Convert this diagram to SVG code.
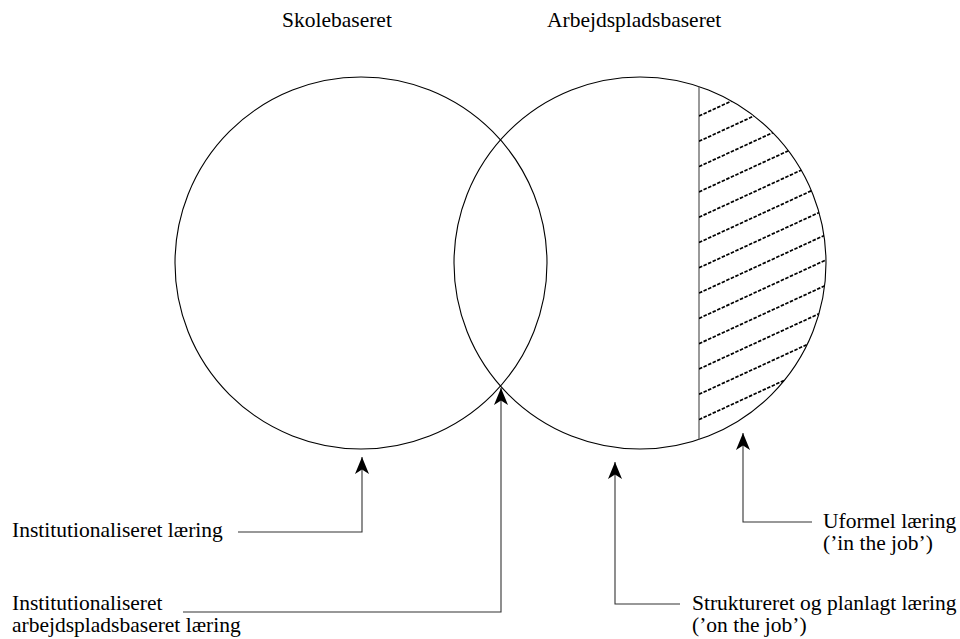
<svg xmlns="http://www.w3.org/2000/svg" width="960" height="639" viewBox="0 0 960 639">
<style>
text{font-family:"Liberation Serif","Times New Roman",serif;font-size:21.5px;fill:#000}
.circ{fill:none;stroke:#000;stroke-width:1.1}
.conn{fill:none;stroke:#333;stroke-width:1.1}
.hatch{fill:none;stroke:#000;stroke-width:1.7;stroke-dasharray:3.5 1.5}
.divider{stroke:#555;stroke-width:1.2}
</style>
<defs>
<marker id="arr" markerUnits="userSpaceOnUse" markerWidth="20" markerHeight="18" viewBox="-18 -9 19 18" refX="0" refY="0" orient="auto">
<path d="M0,0 L-17,-7 L-12.5,0 L-17,7 Z" fill="#000"/>
</marker>
<clipPath id="seg">
<path d="M699,86.6 A186,186 0 0,1 699,439.4 Z"/>
</clipPath>
</defs>
<g id="title-skole"><text x="282" y="27">Skolebaseret</text></g>
<g id="title-arbejd"><text x="547" y="27">Arbejdspladsbaseret</text></g>
<g id="circle-skole"><circle class="circ" cx="361" cy="263" r="186"/></g>
<g id="circle-arbejd">
<circle class="circ" cx="640" cy="263" r="186"/>
<line class="divider" x1="699" y1="86.6" x2="699" y2="439.4"/>
<g clip-path="url(#seg)">
<line class="hatch" x1="699" y1="116" x2="850" y2="46.5"/>
<line class="hatch" x1="699" y1="141.3" x2="850" y2="71.8"/>
<line class="hatch" x1="699" y1="166.6" x2="850" y2="97.1"/>
<line class="hatch" x1="699" y1="191.9" x2="850" y2="122.4"/>
<line class="hatch" x1="699" y1="217.2" x2="850" y2="147.7"/>
<line class="hatch" x1="699" y1="242.5" x2="850" y2="173"/>
<line class="hatch" x1="699" y1="267.8" x2="850" y2="198.3"/>
<line class="hatch" x1="699" y1="293.1" x2="850" y2="223.6"/>
<line class="hatch" x1="699" y1="318.4" x2="850" y2="248.9"/>
<line class="hatch" x1="699" y1="343.7" x2="850" y2="274.2"/>
<line class="hatch" x1="699" y1="369" x2="850" y2="299.5"/>
<line class="hatch" x1="699" y1="394.3" x2="850" y2="324.8"/>
<line class="hatch" x1="699" y1="419.6" x2="850" y2="350.1"/>
</g>
</g>
<g id="connectors">
<path class="conn" d="M238,532 H362 V457" marker-end="url(#arr)"/>
<path class="conn" d="M183,612 H501 V388" marker-end="url(#arr)"/>
<path class="conn" d="M680,604 H615 V462" marker-end="url(#arr)"/>
<path class="conn" d="M812,522 H743 V433" marker-end="url(#arr)"/>
</g>
<g id="label-inst"><text x="12" y="537">Institutionaliseret læring</text></g>
<g id="label-inst-arb"><text x="12" y="610">Institutionaliseret</text><text x="12" y="632">arbejdspladsbaseret læring</text></g>
<g id="label-uformel"><text x="823" y="528">Uformel læring</text><text x="823" y="550">(’in the job’)</text></g>
<g id="label-struk"><text x="692" y="610">Struktureret og planlagt læring</text><text x="692" y="632">(’on the job’)</text></g>
</svg>
